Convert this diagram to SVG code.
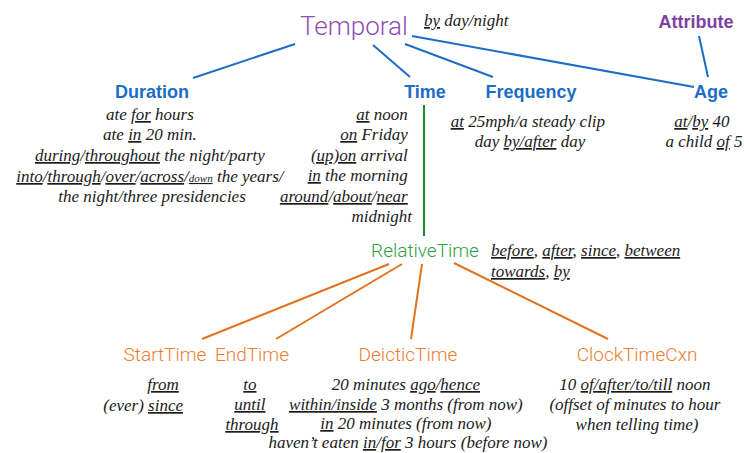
<svg xmlns="http://www.w3.org/2000/svg" width="744" height="453" viewBox="0 0 744 453">
<style>
.ex{font-family:"Liberation Serif",serif;font-style:italic;font-size:17px;fill:#1a1a1a}
.u{text-decoration:underline}
.sm{font-size:11px}
.top{font-family:Roboto,"Liberation Sans",sans-serif;font-weight:300;font-size:26px;fill:#8E4FB3}
.attr{font-family:"Liberation Sans",sans-serif;font-weight:bold;font-size:18px;fill:#7E3FA6}
.blue{font-family:"Liberation Sans",sans-serif;font-weight:bold;font-size:18px;fill:#1C6DC6}
.rel{font-family:Roboto,"Liberation Sans",sans-serif;font-weight:300;font-size:19px;fill:#2FA043}
.org{font-family:Roboto,"Liberation Sans",sans-serif;font-weight:300;font-size:19px;fill:#EB7D2F}
.lb{stroke:#1C6DC6;stroke-width:2;fill:none}
.lg{stroke:#1E8A2E;stroke-width:2;fill:none}
.lo{stroke:#E3721F;stroke-width:2;fill:none}
</style>
<rect width="744" height="453" fill="#ffffff"/>
<g id="connectors">
<line class="lb" x1="295" y1="44" x2="193" y2="78"/>
<line class="lb" x1="373" y1="45" x2="410" y2="77"/>
<line class="lb" x1="405" y1="44" x2="493" y2="77"/>
<line class="lb" x1="412" y1="36" x2="694" y2="87"/>
<line class="lb" x1="699" y1="36" x2="708" y2="77"/>
<line class="lg" x1="424" y1="105" x2="424" y2="236"/>
<line class="lo" x1="389" y1="264" x2="202" y2="339"/>
<line class="lo" x1="402" y1="264" x2="276" y2="339"/>
<line class="lo" x1="422" y1="264" x2="411" y2="339"/>
<line class="lo" x1="454" y1="263" x2="608" y2="339"/>
</g>
<g id="temporal">
<text class="top" x="354" y="35" text-anchor="middle">Temporal</text>
<text class="ex" x="424" y="26"><tspan class="u">by</tspan> day/night</text>
</g>
<g id="attribute">
<text class="attr" x="696" y="28" text-anchor="middle">Attribute</text>
</g>
<g id="duration">
<text class="blue" x="152" y="98" text-anchor="middle">Duration</text>
<text class="ex" text-anchor="middle">
<tspan x="152" y="120">ate <tspan class="u">for</tspan> hours</tspan>
<tspan x="152" y="140">ate <tspan class="u">in</tspan> 20 min.</tspan>
<tspan x="152" y="161"><tspan class="u">during</tspan>/<tspan class="u">throughout</tspan> the night/party</tspan>
<tspan x="152" y="182"><tspan class="u">into</tspan>/<tspan class="u">through</tspan>/<tspan class="u">over</tspan>/<tspan class="u">across</tspan>/<tspan class="u sm">down</tspan> the years/</tspan>
<tspan x="152" y="202">the night/three presidencies</tspan>
</text>
</g>
<g id="time">
<text class="blue" x="425" y="98" text-anchor="middle">Time</text>
<text class="ex" text-anchor="end">
<tspan x="412" y="120"><tspan class="u">at</tspan> noon</tspan>
<tspan x="412" y="140"><tspan class="u">on</tspan> Friday</tspan>
<tspan x="412" y="161"><tspan class="u">(up)on</tspan> arrival</tspan>
<tspan x="412" y="181"><tspan class="u">in</tspan> the morning</tspan>
<tspan x="412" y="202"><tspan class="u">around</tspan>/<tspan class="u">about</tspan>/<tspan class="u">near</tspan></tspan>
<tspan x="412" y="222">midnight</tspan>
</text>
</g>
<g id="frequency">
<text class="blue" x="531" y="98" text-anchor="middle">Frequency</text>
<text class="ex" text-anchor="middle">
<tspan x="530" y="127"><tspan class="u">at</tspan> 25mph/a steady clip</tspan>
<tspan x="530" y="147">day <tspan class="u">by/after</tspan> day</tspan>
</text>
</g>
<g id="age">
<text class="blue" x="711" y="98" text-anchor="middle">Age</text>
<text class="ex" text-anchor="middle">
<tspan x="704" y="127"><tspan class="u">at</tspan>/<tspan class="u">by</tspan> 40</tspan>
<tspan x="704" y="147">a child <tspan class="u">of</tspan> 5</tspan>
</text>
</g>
<g id="relativetime">
<text class="rel" x="425" y="257" text-anchor="middle">RelativeTime</text>
<text class="ex">
<tspan x="491" y="256"><tspan class="u">before</tspan>, <tspan class="u">after</tspan>, <tspan class="u">since</tspan>, <tspan class="u">between</tspan></tspan>
<tspan x="491" y="277"><tspan class="u">towards</tspan>, <tspan class="u">by</tspan></tspan>
</text>
</g>
<g id="starttime">
<text class="org" x="165" y="361" text-anchor="middle">StartTime</text>
<text class="ex" text-anchor="end">
<tspan x="183" y="390" class="u">from</tspan>
<tspan x="183" y="411">(ever) <tspan class="u">since</tspan></tspan>
</text>
</g>
<g id="endtime">
<text class="org" x="252" y="361" text-anchor="middle">EndTime</text>
<text class="ex" text-anchor="middle">
<tspan x="252" y="390" class="u">to</tspan>
<tspan x="252" y="410" class="u">until</tspan>
<tspan x="252" y="430" class="u">through</tspan>
</text>
</g>
<g id="deictictime">
<text class="org" x="408" y="361" text-anchor="middle">DeicticTime</text>
<text class="ex" text-anchor="middle">
<tspan x="408" y="390">20 minutes <tspan class="u">ago</tspan>/<tspan class="u">hence</tspan></tspan>
<tspan x="408" y="410"><tspan class="u">within/inside</tspan> 3 months (from now)</tspan>
<tspan x="408" y="429"><tspan class="u">in</tspan> 20 minutes (from now)</tspan>
<tspan x="408" y="448">haven’t eaten <tspan class="u">in</tspan>/<tspan class="u">for</tspan> 3 hours (before now)</tspan>
</text>
</g>
<g id="clocktimecxn">
<text class="org" x="637" y="361" text-anchor="middle">ClockTimeCxn</text>
<text class="ex" text-anchor="middle">
<tspan x="637" y="390">10 <tspan class="u">of/after/to/till</tspan> noon</tspan>
<tspan x="637" y="410">(offset of minutes to hour</tspan>
<tspan x="637" y="430">when telling time)</tspan>
</text>
</g>
</svg>
